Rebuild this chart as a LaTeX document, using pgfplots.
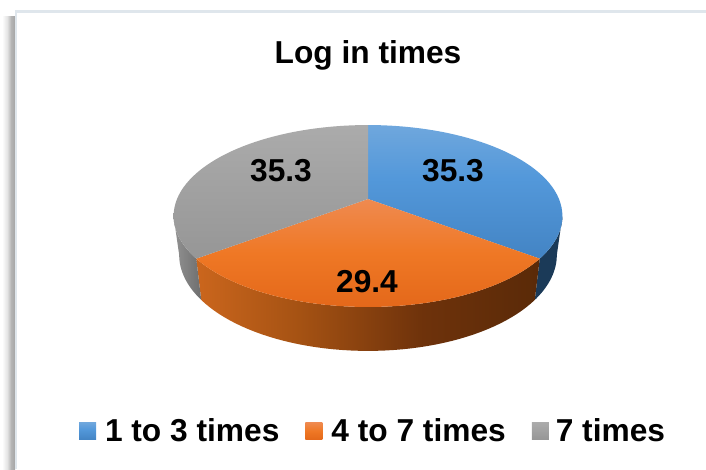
\documentclass[border=0pt]{standalone}
\usepackage{pgfplots}
\usepackage{pgfplotstable}
\usepackage{fontspec}
\setmainfont{Liberation Sans}
\pgfplotsset{compat=1.18}

% Share of each answer and where its percentage is printed
\pgfplotstableread{
value lx ly
35.3 453 181
29.4 367 292
35.3 281 181
}\pietable

\definecolor{bluewall}{HTML}{1B3A58}
\definecolor{frameline}{HTML}{DFE6EC}
\definecolor{blueA}{HTML}{4384C4}
\definecolor{blueB}{HTML}{5398DA}
\definecolor{blueC}{HTML}{6FA7DD}
\definecolor{orA}{HTML}{E4681A}
\definecolor{orB}{HTML}{EF7825}
\definecolor{orC}{HTML}{EF8A50}
\definecolor{grA}{HTML}{969696}
\definecolor{grC}{HTML}{ABABAB}
\definecolor{owA}{HTML}{CB661D}
\definecolor{owB}{HTML}{A55213}
\definecolor{owC}{HTML}{6E320B}
\definecolor{owD}{HTML}{5A2A08}
\definecolor{gwA}{HTML}{929292}
\definecolor{gwB}{HTML}{6E6E6E}
\definecolor{frA}{HTML}{FFFFFF}
\definecolor{frB}{HTML}{E4E4E4}
\definecolor{frC}{HTML}{B4B4B4}
\definecolor{frD}{HTML}{A8A8A8}

\pgfdeclareverticalshading{blueface}{100bp}{color(0bp)=(blueA); color(25bp)=(blueA); color(55bp)=(blueB); color(75bp)=(blueC); color(100bp)=(blueC)}
\pgfdeclareverticalshading{orangeface}{100bp}{color(0bp)=(orA); color(25bp)=(orA); color(50bp)=(orB); color(75bp)=(orC); color(100bp)=(orC)}
\pgfdeclareverticalshading{grayface}{100bp}{color(0bp)=(grA); color(25bp)=(grA); color(75bp)=(grC); color(100bp)=(grC)}
\pgfdeclarehorizontalshading{orangewall}{100bp}{color(0bp)=(owA); color(25bp)=(owA); color(40bp)=(owB); color(58bp)=(owC); color(75bp)=(owD); color(100bp)=(owD)}
\pgfdeclarehorizontalshading{graywall}{100bp}{color(0bp)=(gwA); color(25bp)=(gwA); color(75bp)=(gwB); color(100bp)=(gwB)}
\pgfdeclarehorizontalshading{framedrop}{100bp}{color(0bp)=(frA); color(25bp)=(frA); color(45bp)=(frB); color(60bp)=(frC); color(72bp)=(frD); color(75bp)=(frC); color(100bp)=(frC)}

% Appends a perspective arc of the pie rim to \ptlist.
% #1,#2 start and end angle clockwise from the top, #3,#4 half axes, #5 drop of the rim
\newcommand{\rimarc}[5]{%
  \foreach \i in {0,...,48}{%
    \pgfmathsetmacro\t{#1+(#2-#1)*\i/48}%
    \pgfmathsetmacro\den{1+0.187*cos(\t)}%
    \pgfmathsetmacro\px{368+#3*sin(\t)/\den}%
    \pgfmathsetmacro\py{199+#5-#4*cos(\t)/\den}%
    \xdef\ptlist{\ptlist (\px,\py)}%
  }%
}
% Wedge of the top surface
\newcommand{\pieface}[3]{%
  \gdef\ptlist{(368,199)}%
  \rimarc{#1}{#2}{191}{87.8}{0}%
  \edef\doplot{\noexpand\addplot[forget plot,draw=none,mark=none,shading=#3] coordinates {\ptlist} -- cycle;}%
  \doplot
}
% Visible part of the outer wall
\newcommand{\piewall}[3]{%
  \gdef\ptlist{}%
  \rimarc{#1}{#2}{191}{87.8}{0}%
  \rimarc{#2}{#1}{185.5}{92.6}{38}%
  \edef\doplot{\noexpand\addplot[forget plot,draw=none,mark=none,#3] coordinates {\ptlist} -- cycle;}%
  \doplot
}

\begin{document}
\begin{tikzpicture}[x=1pt,y=1pt]
\pgfmathsetmacro\angA{360*35.3/100}
\pgfmathsetmacro\angB{\angA+360*29.4/100}
\begin{axis}[
  scale only axis, width=706pt, height=469pt,
  xmin=0, xmax=706, ymin=0, ymax=469, y dir=reverse,
  axis lines=none, clip=true,
  legend style={at={(axis cs:79,431)}, anchor=west, draw=none, fill=none,
    inner sep=0pt, outer sep=0pt, legend columns=3,
    font=\fontsize{31.7}{36}\selectfont\bfseries,
    /tikz/every even column/.append style={column sep=26pt},
    nodes={inner sep=0pt}},
  legend cell align=left,
]
  % the whole card, so that the page keeps its size
  \path (axis cs:0,0) rectangle (axis cs:706,469);
  % card edge with its soft drop shadow
  \shade[shading=framedrop] (axis cs:2,16) rectangle (axis cs:15,469);
  \fill[frameline] (axis cs:15,10) rectangle (axis cs:706,12.5);
  \fill[frameline] (axis cs:15,10) rectangle (axis cs:17,469);

  \piewall{100.8}{\angA}{fill=bluewall}
  \piewall{\angA}{\angB}{shading=orangewall}
  \piewall{\angB}{259.2}{shading=graywall}
  \pieface{0}{\angA}{blueface}
  \pieface{\angA}{\angB}{orangeface}
  \pieface{\angB}{360}{grayface}

  \addplot[forget plot, only marks, mark=none, nodes near coords, point meta=explicit symbolic,
    every node near coord/.append style={anchor=base, inner sep=0pt, yshift=0pt,
      font=\fontsize{31.7}{36}\selectfont\bfseries, text=black}]
    table[x=lx, y=ly, meta=value] {\pietable};

  \node[anchor=base, inner sep=0pt, font=\fontsize{31.7}{36}\selectfont\bfseries]
    at (axis cs:368,63) {Log in times};

  \addlegendimage{legend image code/.code={\shade[draw=none,fill=none,shading=blueface] (0pt,-8.5pt) rectangle (17pt,8.5pt);}}
  \addlegendentry{\hspace{9pt}1 to 3 times}
  \addlegendimage{legend image code/.code={\shade[draw=none,fill=none,shading=orangeface] (0pt,-8.5pt) rectangle (17pt,8.5pt);}}
  \addlegendentry{\hspace{9pt}4 to 7 times}
  \addlegendimage{legend image code/.code={\shade[draw=none,fill=none,shading=grayface] (0pt,-8.5pt) rectangle (17pt,8.5pt);}}
  \addlegendentry{\hspace{7pt}7 times}
\end{axis}
\end{tikzpicture}
\end{document}
